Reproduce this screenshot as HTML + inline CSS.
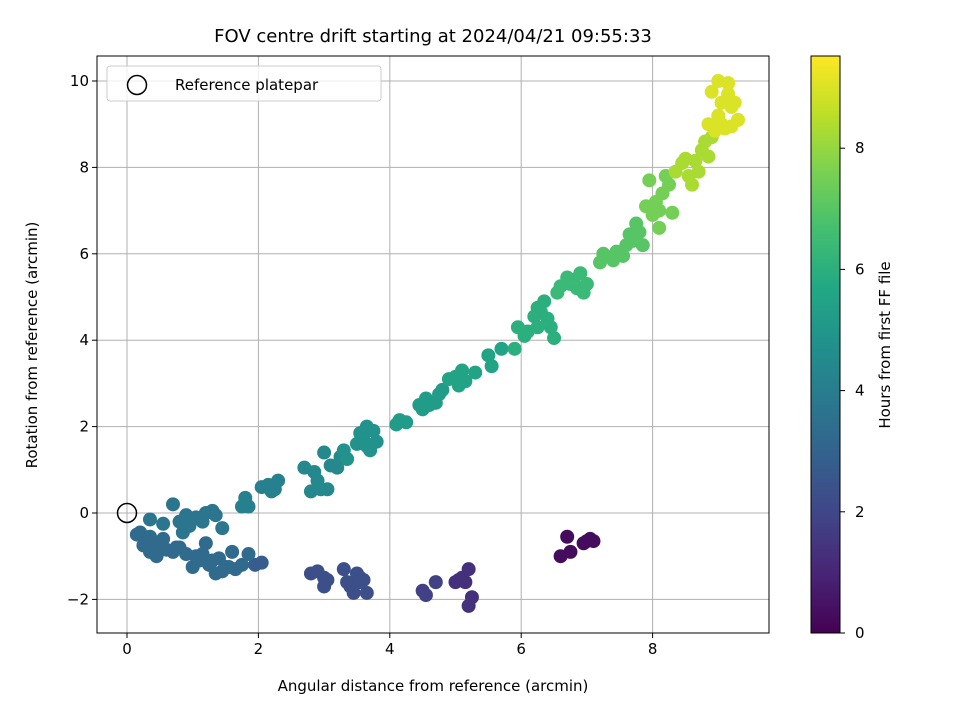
<!DOCTYPE html>
<html><head><meta charset="utf-8"><style>
body{margin:0;background:#fff;}
svg{display:block;font-family:"DejaVu Sans","Liberation Sans",sans-serif;}
</style></head><body>
<svg id="chart" width="960" height="720" viewBox="0 0 960 720">
<defs>
<linearGradient id="vir" x1="0" y1="1" x2="0" y2="0">
<stop offset="0" stop-color="#440154"/><stop offset="0.1" stop-color="#482475"/><stop offset="0.2" stop-color="#414487"/><stop offset="0.3" stop-color="#355f8d"/><stop offset="0.4" stop-color="#2a788e"/><stop offset="0.5" stop-color="#21918c"/><stop offset="0.6" stop-color="#22a884"/><stop offset="0.7" stop-color="#44bf70"/><stop offset="0.8" stop-color="#7ad151"/><stop offset="0.9" stop-color="#bddf26"/><stop offset="1" stop-color="#fde725"/>
</linearGradient>
</defs>
<text x="433" y="42" text-anchor="middle" font-size="18">FOV centre drift starting at 2024/04/21 09:55:33</text>
<g id="grid"></g>
<g id="points"></g>
<rect x="97" y="56" width="672" height="577" fill="none" stroke="#000" stroke-width="1"/>
<g id="ticks"></g>
<text x="433" y="691" text-anchor="middle" font-size="15">Angular distance from reference (arcmin)</text>
<text transform="translate(37,345) rotate(-90)" text-anchor="middle" font-size="15">Rotation from reference (arcmin)</text>
<g>
<rect x="107" y="66" width="274" height="35" rx="3" fill="#fff" fill-opacity="0.8" stroke="#ccc"/>
<circle cx="137" cy="85" r="9.5" fill="none" stroke="#000" stroke-width="1.5"/>
<text x="175" y="90" font-size="15">Reference platepar</text>
</g>
<rect x="811" y="56" width="29" height="577" fill="url(#vir)"/>
<rect x="811" y="56" width="29" height="577" fill="none" stroke="#000"/>
<g id="cbticks"></g>
<text transform="translate(890,345) rotate(-90)" text-anchor="middle" font-size="15">Hours from first FF file</text>
</svg>
<script>
const xTicks=[0,2,4,6,8];
const yTicks=[-2,0,2,4,6,8,10];
const cbTicks=[0,2,4,6,8];
const groupHours=[0.3,1.3,1.8,2.3,2.8,3.3,3.7,4.1,4.4,4.8,5.2,5.5,6.0,6.4,7.0,7.5,8.3,9.0];
const groupXs=[
[6.6,6.7,6.75,7.0,7.05,7.1,6.95],
[5.0,5.1,5.2,5.15,5.25,5.2,5.05],
[4.5,4.55,4.7],
[2.8,2.9,3.0,3.0,3.05,3.3,3.35,3.4,3.45,3.5,3.55,3.6,3.65,3.55],
[1.95,2.05],
[0.15,0.2,0.25,0.3,0.35,0.4,0.45,0.5,0.55,0.6,0.7,0.75,0.9,1.0,1.05,1.1,1.2,1.25,1.35,1.4,1.45,1.55,1.6,1.65,1.75,1.85,1.3,1.15,0.8,0.35,1.5],
[0.35,0.55,0.7,0.8,0.85,0.95,1.0,1.05,1.15,1.2,1.3,1.35,1.45,0.9],
[1.75,1.8,1.85,2.05,2.15,2.2,2.3,2.25],
[2.7,2.8,2.85,2.9,2.95,3.0,3.05,3.1,3.2,3.25],
[3.3,3.35,3.5,3.55,3.6,3.65,3.7,3.75,3.8,3.65],
[4.1,4.15,4.25,4.45,4.5,4.55,4.6,4.7,4.75,4.8],
[4.9,5.0,5.05,5.1,5.15,5.3,5.5,5.55,5.7],
[5.9,5.95,6.05,6.1,6.2,6.25,6.3,6.35,6.4,6.45,6.5,6.25],
[6.55,6.6,6.7,6.75,6.85,6.9,6.95,7.0,6.8],
[7.2,7.25,7.4,7.45,7.55,7.6,7.65,7.7,7.75,7.8,7.85],
[7.9,7.95,8.05,8.0,8.1,8.15,8.1,8.3,8.25,8.2],
[8.35,8.45,8.5,8.55,8.6,8.7,8.75,8.8,8.85,8.9,8.65],
[8.85,8.9,9.0,9.05,9.1,9.15,9.2,9.25,9.3,9.0,9.15,9.05,9.2,8.95]];
const groupYs=[
[-1.0,-0.55,-0.9,-0.65,-0.6,-0.65,-0.7],
[-1.6,-1.5,-1.3,-1.6,-1.95,-2.15,-1.55],
[-1.8,-1.9,-1.6],
[-1.4,-1.35,-1.5,-1.7,-1.55,-1.3,-1.6,-1.7,-1.85,-1.4,-1.5,-1.55,-1.85,-1.6],
[-1.2,-1.15],
[-0.5,-0.45,-0.75,-0.6,-0.55,-0.8,-1.0,-0.75,-0.6,-0.85,-0.9,-0.8,-0.95,-1.25,-1.0,-1.1,-0.7,-1.2,-1.4,-1.05,-1.35,-1.25,-0.9,-1.3,-1.2,-0.95,-1.1,-0.95,-0.8,-0.9,-1.25],
[-0.15,-0.25,0.2,-0.2,-0.45,-0.3,-0.15,-0.1,-0.2,0.0,0.05,-0.05,-0.35,-0.05],
[0.15,0.35,0.15,0.6,0.65,0.5,0.75,0.55],
[1.05,0.5,0.95,0.75,0.55,1.4,0.55,1.1,1.05,1.3],
[1.45,1.25,1.6,1.85,1.7,2.0,1.45,1.9,1.65,1.55],
[2.05,2.15,2.1,2.5,2.4,2.65,2.5,2.55,2.75,2.85],
[3.1,3.15,2.95,3.3,3.05,3.25,3.65,3.4,3.8],
[3.8,4.3,4.1,4.2,4.55,4.75,4.65,4.9,4.5,4.3,4.05,4.3],
[5.1,5.25,5.45,5.3,5.2,5.55,5.1,5.3,5.4],
[5.8,6.0,5.85,6.05,5.95,6.2,6.45,6.3,6.7,6.5,6.2],
[7.1,7.7,7.2,6.9,6.6,7.4,7.0,6.95,7.6,7.8],
[7.9,8.1,8.2,7.8,7.6,7.9,8.4,8.6,8.25,8.7,8.15],
[9.0,9.75,9.2,9.0,8.9,9.7,9.4,9.5,9.1,10.0,9.95,9.5,8.95,8.85]];
const NS='http://www.w3.org/2000/svg';
const X0=97,X1=769,Y0=56,Y1=633;
function sx(v){return 127+v*65.7;}
function sy(v){return 513-v*43.2;}
function cy(v){return 633-v*60.6;}
const stops=[[68,1,84],[72,36,117],[65,68,135],[53,95,141],[42,120,142],[33,145,140],[34,168,132],[68,191,112],[122,209,81],[189,223,38],[253,231,37]];
function vir(h){let t=Math.max(0,Math.min(1,h/9.52))*(stops.length-1);let i=Math.min(stops.length-2,Math.floor(t)),f=t-i;
const c=stops[i].map((a,k)=>Math.round(a+(stops[i+1][k]-a)*f));return 'rgb('+c.join(',')+')';}
function mk(tag,attrs,parent){const e=document.createElementNS(NS,tag);for(const k in attrs)e.setAttribute(k,attrs[k]);parent.appendChild(e);return e;}
const grid=document.getElementById('grid'),ticks=document.getElementById('ticks'),pts=document.getElementById('points'),cbt=document.getElementById('cbticks');
xTicks.forEach(v=>{const x=sx(v);
const g=mk('line',{x1:x,x2:x,y1:Y0,y2:Y1,stroke:'#b0b0b0','stroke-width':1},grid);

const t=mk('line',{x1:x,x2:x,y1:Y1,y2:Y1+5,stroke:'#000'},ticks);

const l=mk('text',{x:x,y:Y1+21,'text-anchor':'middle','font-size':15},ticks);l.textContent=v;
});
yTicks.forEach(v=>{const y=sy(v);
const g=mk('line',{x1:X0,x2:X1,y1:y,y2:y,stroke:'#b0b0b0','stroke-width':1},grid);

const t=mk('line',{x1:X0-5,x2:X0,y1:y,y2:y,stroke:'#000'},ticks);

const l=mk('text',{x:X0-8,y:y+5,'text-anchor':'end','font-size':15},ticks);l.textContent=(v<0?'\u2212'+(-v):v);
});
cbTicks.forEach(v=>{const y=cy(v);
const t=mk('line',{x1:840,x2:845,y1:y,y2:y,stroke:'#000'},cbt);

const l=mk('text',{x:855,y:y+5,'font-size':15},cbt);l.textContent=v;
});
groupXs.forEach((xs,gi)=>{xs.forEach((xv,i)=>{
const c=mk('circle',{cx:sx(xv),cy:sy(groupYs[gi][i]),r:7,fill:vir(groupHours[gi])},pts);
});});
const ref=mk('circle',{cx:sx(0),cy:sy(0),r:9.5,fill:'none',stroke:'#000','stroke-width':1.5},pts);


</script>
</body></html>
